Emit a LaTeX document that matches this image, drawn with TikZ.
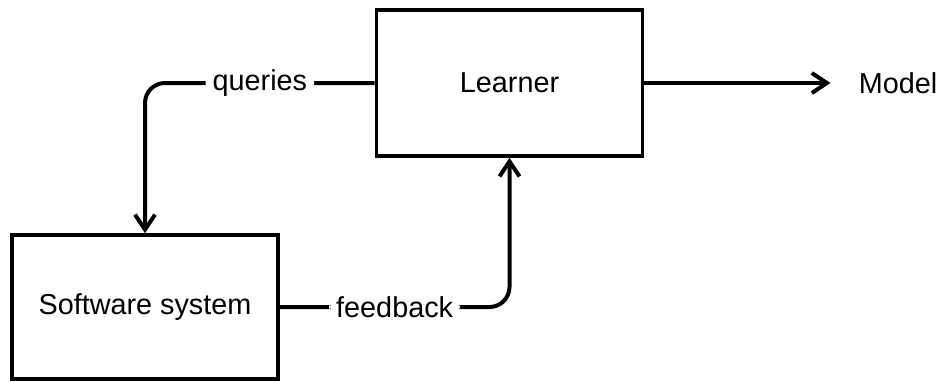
\documentclass[tikz,border=0pt]{standalone}
\usepackage{fontspec}
\setmainfont{Liberation Sans}
\usetikzlibrary{arrows.meta}
\begin{document}
\begin{tikzpicture}[x=0.5pt,y=-0.5pt,
  font=\fontsize{14.4}{17}\selectfont,
  box/.style={draw, line width=1.8pt, minimum width=133pt, minimum height=73pt, inner sep=0pt},
  conn/.style={line width=2pt, rounded corners=10pt, -{Straight Barb[length=7.5pt,width=10pt,line width=2pt]}},
  lbl/.style={fill=white, inner xsep=3.5pt, inner ysep=2pt, pos=0.25},
  ]
\useasboundingbox (0,0) rectangle (941,381);
\node[box] (learner) at (509.5,83) {Learner};
\node[box, minimum height=72pt] (software) at (145,307) {Software system};
\node[inner xsep=14pt, inner ysep=0pt] (model) at (898,83) {Model};
\draw[conn] (learner.west) -| node[lbl] {queries} (software.north);
\draw[conn] (software.east) -| node[lbl] {feedback} (learner.south);
\draw[conn] (learner.east) -- (model.west);
\end{tikzpicture}
\end{document}
